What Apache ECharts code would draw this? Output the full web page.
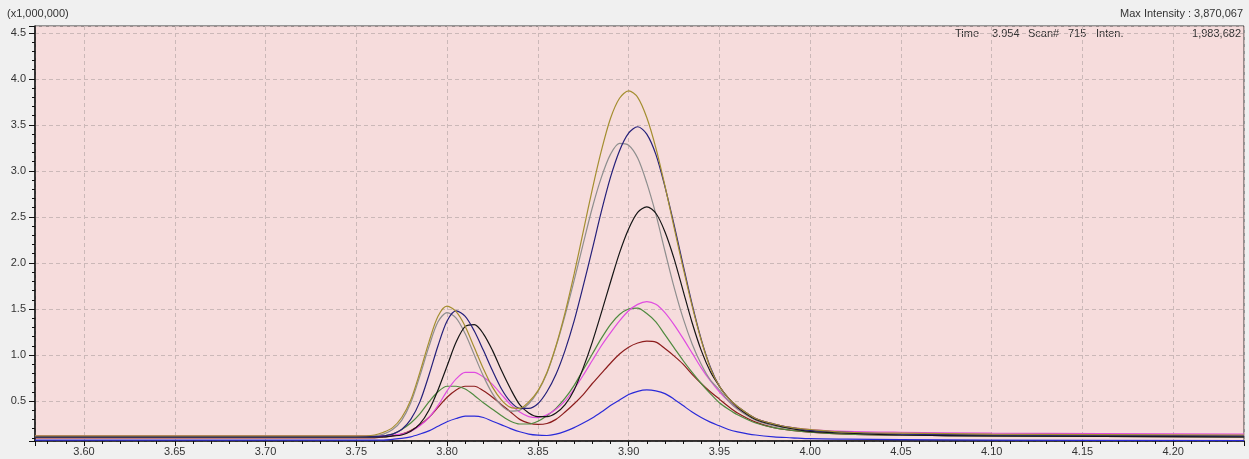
<!DOCTYPE html>
<html>
<head>
<meta charset="utf-8">
<script src="https://cdn.jsdelivr.net/npm/echarts@6/dist/echarts.min.js"></script>
<style>
  html, body { margin: 0; padding: 0; background: #f0f0f0; }
  #chart { width: 1249px; height: 459px; }
</style>
</head>
<body>
<div id="chart"></div>
<script>
// retention time (min)
const times = [3.573, 3.65, 3.74, 3.75, 3.76, 3.765, 3.77, 3.775, 3.78, 3.785, 3.79, 3.795,
  3.80, 3.805, 3.81, 3.815, 3.82, 3.825, 3.83, 3.835, 3.84, 3.845, 3.85, 3.855, 3.86, 3.865,
  3.87, 3.875, 3.88, 3.885, 3.89, 3.895, 3.90, 3.905, 3.91, 3.915, 3.92, 3.925, 3.93, 3.935,
  3.94, 3.945, 3.95, 3.955, 3.96, 3.97, 3.98, 3.99, 4.00, 4.02, 4.05, 4.10, 4.239];

// intensity (x1,000,000) per trace
const olive = [0.12, 0.12, 0.12, 0.12, 0.13, 0.16, 0.21, 0.32, 0.51, 0.81, 1.14, 1.42,
  1.53, 1.47, 1.31, 1.08, 0.85, 0.65, 0.51, 0.43, 0.42, 0.49, 0.61, 0.81, 1.10, 1.46,
  1.88, 2.34, 2.80, 3.22, 3.57, 3.79, 3.87, 3.80, 3.58, 3.25, 2.84, 2.39, 1.95, 1.53,
  1.16, 0.86, 0.66, 0.53, 0.44, 0.31, 0.25, 0.21, 0.19, 0.16, 0.15, 0.14, 0.13];
const navy = [0.11, 0.11, 0.11, 0.11, 0.11, 0.12, 0.14, 0.19, 0.30, 0.49, 0.78, 1.10,
  1.37, 1.48, 1.42, 1.26, 1.05, 0.83, 0.63, 0.49, 0.42, 0.42, 0.47, 0.60, 0.79, 1.05,
  1.37, 1.75, 2.15, 2.56, 2.93, 3.22, 3.41, 3.48, 3.40, 3.18, 2.83, 2.42, 1.98, 1.55,
  1.17, 0.87, 0.66, 0.53, 0.44, 0.31, 0.25, 0.21, 0.18, 0.16, 0.14, 0.13, 0.12];
const gray = [0.11, 0.11, 0.11, 0.11, 0.12, 0.14, 0.19, 0.29, 0.48, 0.77, 1.09, 1.36,
  1.46, 1.40, 1.23, 1.00, 0.77, 0.58, 0.45, 0.39, 0.40, 0.47, 0.60, 0.80, 1.09, 1.43,
  1.81, 2.21, 2.60, 2.93, 3.18, 3.30, 3.28, 3.14, 2.87, 2.53, 2.13, 1.74, 1.40, 1.12,
  0.90, 0.73, 0.62, 0.50, 0.41, 0.29, 0.23, 0.20, 0.18, 0.15, 0.14, 0.13, 0.12];
const black = [0.11, 0.11, 0.11, 0.11, 0.11, 0.11, 0.12, 0.13, 0.17, 0.25, 0.40, 0.62,
  0.88, 1.14, 1.31, 1.33, 1.23, 1.05, 0.83, 0.63, 0.46, 0.37, 0.33, 0.33, 0.37, 0.46,
  0.62, 0.86, 1.14, 1.46, 1.79, 2.11, 2.37, 2.55, 2.61, 2.54, 2.34, 2.05, 1.70, 1.35,
  1.05, 0.82, 0.66, 0.53, 0.43, 0.30, 0.24, 0.20, 0.17, 0.15, 0.13, 0.12, 0.11];
const magenta = [0.12, 0.12, 0.12, 0.12, 0.12, 0.12, 0.13, 0.14, 0.17, 0.23, 0.32, 0.45,
  0.61, 0.74, 0.81, 0.81, 0.76, 0.68, 0.57, 0.46, 0.38, 0.33, 0.32, 0.35, 0.41, 0.50,
  0.63, 0.78, 0.94, 1.10, 1.24, 1.37, 1.48, 1.55, 1.58, 1.55, 1.46, 1.33, 1.18, 1.02,
  0.86, 0.72, 0.60, 0.50, 0.42, 0.31, 0.25, 0.21, 0.19, 0.17, 0.16, 0.15, 0.14];
const green = [0.11, 0.11, 0.11, 0.11, 0.11, 0.12, 0.14, 0.19, 0.26, 0.36, 0.49, 0.60,
  0.66, 0.66, 0.63, 0.56, 0.48, 0.41, 0.34, 0.28, 0.25, 0.25, 0.28, 0.34, 0.42, 0.53,
  0.67, 0.84, 1.01, 1.18, 1.33, 1.44, 1.50, 1.51, 1.45, 1.36, 1.22, 1.08, 0.94, 0.81,
  0.69, 0.58, 0.48, 0.41, 0.35, 0.26, 0.21, 0.18, 0.16, 0.14, 0.13, 0.12, 0.11];
const red = [0.10, 0.10, 0.10, 0.10, 0.10, 0.11, 0.12, 0.14, 0.18, 0.24, 0.32, 0.43,
  0.54, 0.62, 0.66, 0.66, 0.61, 0.54, 0.46, 0.38, 0.30, 0.26, 0.245, 0.255, 0.30, 0.38,
  0.47, 0.57, 0.69, 0.80, 0.91, 1.01, 1.085, 1.13, 1.15, 1.14, 1.07, 0.99, 0.90, 0.79,
  0.69, 0.60, 0.52, 0.44, 0.37, 0.27, 0.21, 0.18, 0.16, 0.14, 0.13, 0.12, 0.11];
const blue = [0.075, 0.075, 0.075, 0.075, 0.075, 0.075, 0.083, 0.093, 0.11, 0.14, 0.175, 0.225,
  0.275, 0.31, 0.335, 0.335, 0.32, 0.28, 0.24, 0.20, 0.165, 0.14, 0.128, 0.125, 0.14, 0.17,
  0.21, 0.26, 0.315, 0.38, 0.45, 0.51, 0.57, 0.605, 0.62, 0.61, 0.58, 0.52, 0.45, 0.38,
  0.32, 0.27, 0.23, 0.19, 0.165, 0.13, 0.11, 0.10, 0.09, 0.085, 0.08, 0.075, 0.07];

const traces = [
  { name: 'blue', data: blue, color: '#2a2ad8' },
  { name: 'red', data: red, color: '#8c1c1c' },
  { name: 'green', data: green, color: '#4f8a3f' },
  { name: 'magenta', data: magenta, color: '#e04ce0' },
  { name: 'gray', data: gray, color: '#8e8e8e' },
  { name: 'black', data: black, color: '#151515' },
  { name: 'navy', data: navy, color: '#25207a' },
  { name: 'olive', data: olive, color: '#a48e30' }
];

const font = 'Liberation Sans, Arial, sans-serif';
const chart = echarts.init(document.getElementById('chart'));

const dashed = { show: true, lineStyle: { color: '#cbb8b8', type: [4, 3], width: 1 } };

chart.setOption({
  animation: false,
  backgroundColor: '#f0f0f0',
  textStyle: { fontFamily: font },
  grid: {
    left: 35, right: 5, top: 26, bottom: 18,
    show: true, backgroundColor: '#f6dcdc', borderColor: '#3a3a3a', borderWidth: 1
  },
  xAxis: {
    type: 'value', min: 3.573, max: 4.239, splitNumber: 13,
    axisLine: { show: true, onZero: false, lineStyle: { color: '#111', width: 1.5 } },
    axisTick: { show: true, length: 5, lineStyle: { color: '#111' } },
    minorTick: { show: true, splitNumber: 5, length: 3, lineStyle: { color: '#111' } },
    splitLine: dashed,
    axisLabel: {
      fontSize: 11, color: '#333', margin: 5, showMinLabel: false, showMaxLabel: false,
      formatter: v => v.toFixed(2)
    }
  },
  yAxis: {
    type: 'value', min: 0.065, max: 4.575, splitNumber: 9,
    axisLine: { show: true, onZero: false, lineStyle: { color: '#111', width: 1.5 } },
    axisTick: { show: true, length: 6, lineStyle: { color: '#111' } },
    minorTick: { show: true, splitNumber: 5, length: 3, lineStyle: { color: '#111' } },
    splitLine: dashed,
    axisLabel: {
      fontSize: 11, color: '#333', margin: 9, showMinLabel: false, showMaxLabel: false,
      formatter: v => v.toFixed(1)
    }
  },
  graphic: [
    { type: 'text', left: 7, top: 8, style: { text: '(x1,000,000)', font: '11px ' + font, fill: '#333' } },
    { type: 'text', right: 6, top: 8, style: { text: 'Max Intensity : 3,870,067', font: '11px ' + font, fill: '#333' } },
    { type: 'text', left: 955, top: 28, style: { text: 'Time', font: '11px ' + font, fill: '#333' } },
    { type: 'text', left: 992, top: 28, style: { text: '3.954', font: '11px ' + font, fill: '#333' } },
    { type: 'text', left: 1028, top: 28, style: { text: 'Scan#', font: '11px ' + font, fill: '#333' } },
    { type: 'text', left: 1068, top: 28, style: { text: '715', font: '11px ' + font, fill: '#333' } },
    { type: 'text', left: 1096, top: 28, style: { text: 'Inten.', font: '11px ' + font, fill: '#333' } },
    { type: 'text', right: 8, top: 28, style: { text: '1,983,682', font: '11px ' + font, fill: '#333' } }
  ],
  series: traces.map(t => ({
    type: 'line',
    name: t.name,
    data: times.map((x, i) => [x, t.data[i]]),
    showSymbol: false,
    smooth: 0.3,
    clip: true,
    lineStyle: { color: t.color, width: 1.2 },
    itemStyle: { color: t.color }
  }))
});
</script>
</body>
</html>
